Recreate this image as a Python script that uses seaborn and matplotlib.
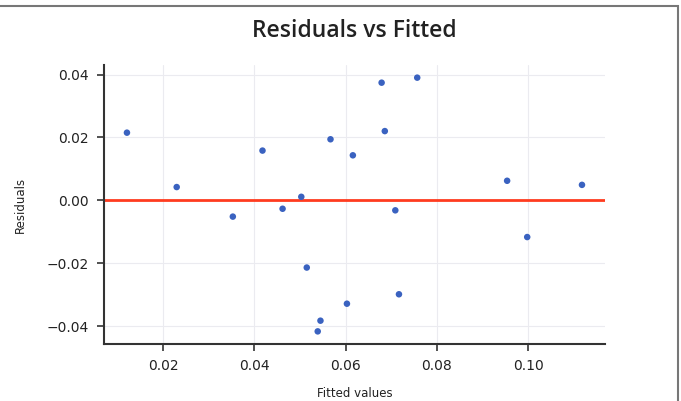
import numpy as np
import pandas as pd
import matplotlib
matplotlib.use('Agg')
import matplotlib.pyplot as plt
from matplotlib.patches import Rectangle
import seaborn as sns

# Fitted values and residuals
fitted = [0.0121, 0.0230, 0.0353, 0.0418, 0.0462, 0.0503, 0.0515, 0.0567, 0.0545, 0.0539,
          0.0603, 0.0616, 0.0679, 0.0686, 0.0709, 0.0717, 0.0757, 0.0954, 0.0998, 0.1118]
residuals = [0.0215, 0.0042, -0.0052, 0.0158, -0.0027, 0.0011, -0.0214, 0.0194, -0.0383, -0.0417,
             -0.0329, 0.0143, 0.0374, 0.0220, -0.0032, -0.0299, 0.0390, 0.0062, -0.0117, 0.0049]
xticks = [0.02, 0.04, 0.06, 0.08, 0.10]
yticks = [-0.04, -0.02, 0.00, 0.02, 0.04]

df = pd.DataFrame({'Fitted values': fitted, 'Residuals': residuals})

sns.set_style('whitegrid', {'grid.color': '#ebebf0', 'axes.edgecolor': '#333333'})

fig = plt.figure(figsize=(6.81, 4.01), dpi=100)
ax = fig.add_axes([0.153, 0.142, 0.735, 0.696])

sns.scatterplot(data=df, x='Fitted values', y='Residuals', ax=ax,
                color='#3a62c0', s=22, edgecolor='none', zorder=3)
ax.axhline(0, color='#ff3b1f', linewidth=2, zorder=2)

ax.set_xticks(xticks)
ax.set_yticks(yticks)
ax.set_xticklabels([f'{t:.2f}' for t in xticks])
ax.set_yticklabels([f'{t:.2f}'.replace('-', '\u2212') for t in yticks])
ax.tick_params(axis='both', labelsize=10, length=5, width=1.2, color='#333333',
               left=True, bottom=True, labelcolor='#222222', pad=6)
ax.set_xlabel('Fitted values', fontsize=8.5, color='#222222', labelpad=10)
ax.set_ylabel('Residuals', fontsize=8.5, color='#222222', labelpad=14)
ax.set_title('Residuals vs Fitted', fontsize=16.5, color='#222222', pad=20,
             weight='semibold', family=['Open Sans', 'DejaVu Sans'])
sns.despine(ax=ax)
for sp in ['left', 'bottom']:
    ax.spines[sp].set_linewidth(1.5)
    ax.spines[sp].set_color('#333333')

# frame line around the screenshot (only top and right edges visible)
fig.patches.append(Rectangle((-0.1, -0.1), 1.096, 1.085, transform=fig.transFigure,
                             fill=False, edgecolor='#777777', linewidth=1.5))

fig.savefig('out.png', dpi=100)
